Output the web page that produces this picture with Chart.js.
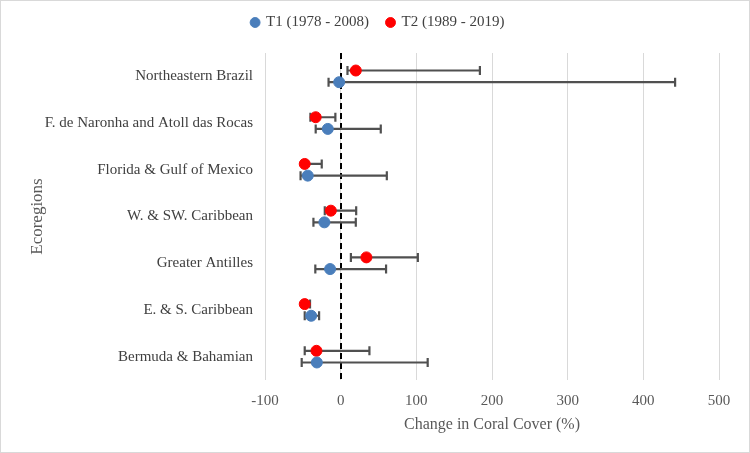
<!DOCTYPE html>
<html>
<head>
<meta charset="utf-8">
<script src="https://cdn.jsdelivr.net/npm/chart.js@4/dist/chart.umd.min.js"></script>
<style>
html,body{margin:0;padding:0;background:#fff;}
#wrap{width:750px;height:453px;box-sizing:border-box;border:1px solid #d9d9d9;position:relative;}
canvas{display:block;}
</style>
</head>
<body>
<div id="wrap"><canvas id="c" width="748" height="451"></canvas></div>
<script>
const categories = ["Northeastern Brazil","F. de Naronha and Atoll das Rocas","Florida & Gulf of Mexico","W. & SW. Caribbean","Greater Antilles","E. & S. Caribbean","Bermuda & Bahamian"];
const seriesNames = ["T1 (1978 - 2008)","T2 (1989 - 2019)"];
const t1Values = [-2, -17, -43.5, -21.5, -14, -39, -31.5];
const t1Low    = [-16, -33, -53, -36, -33.5, -47.5, -51.5];
const t1High   = [442, 53, 61, 20, 60, -28.5, 115];
const t2Values = [20, -33, -47.5, -13, 34, -47.5, -32];
const t2Low    = [9, -40, -50, -21, 13.5, -50, -47.5];
const t2High   = [184, -7, -25, 20.5, 102, -40.5, 38];
const xTicks = [-100, 0, 100, 200, 300, 400, 500];

const FONT = "'Liberation Serif', serif";
const OFFSET = 0.125;

function pts(vals, off){ return vals.map((v,i)=>({x:v, y:i+1+off})); }

const legendMargin = {
  id:'legendMargin',
  beforeInit(chart){
    const fit = chart.legend.fit;
    chart.legend.fit = function(){ fit.bind(chart.legend)(); this.height += 9; };
  },
  afterLayout(chart){
    const l = chart.legend;
    l.left += 7; l.right += 7;
    l.top -= 4; l.bottom -= 4;
  }
};

const errorBars = {
  id:'errorBars',
  beforeDatasetsDraw(chart){
    const {ctx, scales:{x,y}, chartArea} = chart;
    ctx.save();
    ctx.strokeStyle = '#000';
    ctx.lineWidth = 2;
    ctx.setLineDash([6,4]);
    const x0 = Math.round(x.getPixelForValue(0));
    ctx.beginPath();
    ctx.moveTo(x0, chartArea.top);
    ctx.lineTo(x0, chartArea.bottom);
    ctx.stroke();
    ctx.setLineDash([]);
    const sets = [[t1Low,t1High,OFFSET],[t2Low,t2High,-OFFSET]];
    ctx.strokeStyle = '#505050';
    ctx.lineWidth = 2.2;
    sets.forEach(([lo,hi,off])=>{
      lo.forEach((l,i)=>{
        const yy = y.getPixelForValue(i+1+off);
        const xl = x.getPixelForValue(l), xh = x.getPixelForValue(hi[i]);
        ctx.beginPath();
        ctx.moveTo(xl,yy); ctx.lineTo(xh,yy);
        ctx.moveTo(xl,yy-4.5); ctx.lineTo(xl,yy+4.5);
        ctx.moveTo(xh,yy-4.5); ctx.lineTo(xh,yy+4.5);
        ctx.stroke();
      });
    });
    ctx.restore();
  }
};

new Chart(document.getElementById('c'), {
  type:'scatter',
  data:{
    datasets:[
      {label:seriesNames[0], data:pts(t1Values, OFFSET), backgroundColor:'#4a7ebb', borderColor:'#4a7ebb', pointRadius:5.5, pointHoverRadius:5.5, pointStyle:'circle'},
      {label:seriesNames[1], data:pts(t2Values, -OFFSET), backgroundColor:'#ff0000', borderColor:'#ff0000', pointRadius:5.5, pointHoverRadius:5.5, pointStyle:'circle'}
    ]
  },
  options:{
    responsive:false,
    animation:false,
    layout:{padding:{left:22,right:30,top:0,bottom:8}},
    plugins:{
      legend:{
        position:'top',
        labels:{usePointStyle:true, pointStyle:'circle', boxWidth:7, boxHeight:7, padding:18, color:'#404040', font:{family:FONT,size:15}}
      },
      tooltip:{enabled:false}
    },
    scales:{
      x:{
        type:'linear', min:-100, max:500,
        afterBuildTicks(s){ s.ticks = xTicks.map(v=>({value:v})); },
        afterFit(s){ s.height = 64; },
        grid:{color:'#d9d9d9', lineWidth:1, drawTicks:false},
        border:{display:false},
        ticks:{color:'#595959', padding:12, font:{family:FONT,size:15}},
        title:{display:true, text:'Change in Coral Cover (%)', color:'#595959', font:{family:FONT,size:16}, padding:{top:4,bottom:10}}
      },
      y:{
        type:'linear', min:0.5, max:7.5, reverse:true,
        afterBuildTicks(s){ s.ticks = categories.map((c,i)=>({value:i+1})); },
        afterFit(s){ s.width = 242; },
        grid:{display:false, drawTicks:false},
        border:{display:false},
        ticks:{color:'#404040', padding:12, font:{family:FONT,size:15}, callback:(v)=>categories[v-1]},
        title:{display:true, text:'Ecoregions', color:'#595959', font:{family:FONT,size:17}, padding:{bottom:4}}
      }
    }
  },
  plugins:[errorBars, legendMargin]
});
</script>
</body>
</html>
